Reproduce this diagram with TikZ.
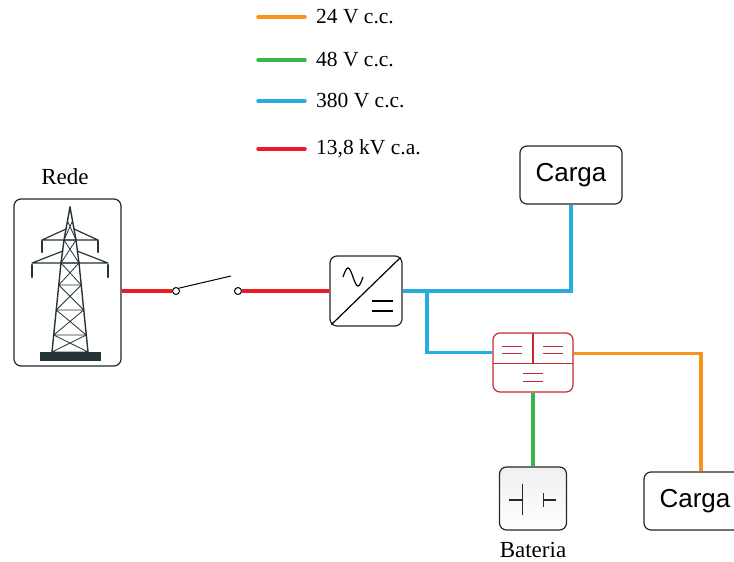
\documentclass[tikz,border=0pt]{standalone}
\usepackage{fontspec}
\setmainfont{Liberation Serif}
\newfontfamily\cargafont{Liberation Sans}
\usetikzlibrary{calc}

\definecolor{cc24}{RGB}{247,148,29}
\definecolor{cc48}{RGB}{57,181,74}
\definecolor{cc380}{RGB}{41,171,226}
\definecolor{ca138}{RGB}{237,28,36}
\definecolor{convred}{RGB}{196,42,48}
\definecolor{towercol}{RGB}{38,52,56}

\tikzset{
  box/.style={draw=black!85, line width=1.2pt, rounded corners=7pt, fill=white, inner sep=0pt},
  carga/.style={box, minimum width=102pt, minimum height=58pt,
    font=\cargafont\fontsize{26}{28}\selectfont},
  wire/.style={line width=3.5pt},
  terminal/.style={circle, draw, fill=white, line width=1pt, inner sep=0pt, minimum size=7pt},
  legtxt/.style={anchor=west, inner sep=0pt, font=\fontsize{21.5}{25}\selectfont},
  lbl/.style={inner sep=0pt, font=\fontsize{23}{27}\selectfont},
  sym/.style={line width=1.2pt},
}

\begin{document}
\begin{tikzpicture}[x=1pt,y=-1pt]
  \useasboundingbox (0,0) rectangle (734,562);
  \clip (0,0) rectangle (734,562);

  % legenda
  \foreach \i/\y/\c/\t in {1/17/cc24/24 V c.c., 2/60/cc48/48 V c.c.,
      3/101/cc380/380 V c.c., 4/149/ca138/{13,8 kV c.a.}} {
    \node[legtxt] (leg\i) at (316,\y) {\t};
    \draw[wire,\c,line cap=round] ([xshift=-58pt]leg\i.west) -- ([xshift=-11pt]leg\i.west);
  }

  % blocos
  \node[box, minimum width=107pt, minimum height=167pt] (rede) at (67.5,282.5) {};
  \node[lbl] (redelbl) at (65,177) {Rede};
  \node[box, minimum width=72pt, minimum height=70pt] (inv) at (366,291) {};
  \node[box, draw=convred, minimum width=80pt, minimum height=59pt] (conv) at (533,362.5) {};
  \node[box, top color=black!6, bottom color=white, minimum width=67pt, minimum height=63pt] (bat) at (533,498.5) {};
  \node[lbl] (batlbl) at (533,550) {Bateria};
  \node[carga] (cargaa) at (571,175) {Carga};
  \node[carga] (cargab) at (695,501) {Carga};

  % torre de transmissao
  \begin{scope}[towercol, line cap=round]
    \draw[line width=1.4pt] (70,207) -- (64,240) -- (61,263) -- (52,352);
    \draw[line width=1.4pt] (70,207) -- (76,240) -- (79,263) -- (88,352);
    \draw[line width=0.8pt] (64,240) -- (79,263) (76,240) -- (61,263)
      (68,222) -- (76,240) (72,222) -- (64,240) (64,240) -- (76,240) (61,263) -- (79,263);
    \foreach \ya/\yb in {263/285,285/310,310/335,335/352} {
      \draw[line width=0.8pt] ({61-9*(\ya-263)/89},\ya) -- ({79+9*(\yb-263)/89},\yb)
        ({79+9*(\ya-263)/89},\ya) -- ({61-9*(\yb-263)/89},\yb)
        ({61-9*(\yb-263)/89},\yb) -- ({79+9*(\yb-263)/89},\yb);
    }
    % bracos e isoladores
    \draw[line width=1.2pt] (42,240) -- (98,240) (42,240) -- (66,229) (98,240) -- (74,229);
    \draw[line width=1.2pt] (32,263) -- (108,263) (32,263) -- (63,251) (108,263) -- (77,251);
    \draw[line width=2.6pt] (42,241) -- (42,252) (98,241) -- (98,252)
      (32,265) -- (32,277) (108,265) -- (108,277);
    \fill (40,352) rectangle (101,361);
  \end{scope}

  % chave
  \node[terminal] (swa) at (176,291) {};
  \node[terminal] (swb) at (238,291) {};
  \coordinate (swtip) at (231,276);
  \draw[line width=1pt] (swa.north east) -- (swtip);

  % simbolos internos
  \begin{scope}[shift={(inv.center)}, sym]
    \draw ([shift={(2,-2)}]inv.south west) -- ([shift={(-2,2)}]inv.north east);
    \draw (-23,-14) sin (-18,-23) cos (-13,-14) sin (-8,-5) cos (-3,-14);
    \draw (6,10) -- (27,10) (6,20) -- (27,20);
  \end{scope}
  \begin{scope}[shift={(conv.center)}, sym, convred]
    \draw (-40,1) -- (40,1) (0,-29.5) -- (0,1);
    \draw (-31,-16) -- (-11,-16) (-31,-9) -- (-11,-9);
    \draw (10,-16) -- (30,-16) (10,-9) -- (30,-9);
    \draw (-10,11) -- (10,11) (-10,19) -- (10,19);
  \end{scope}
  \begin{scope}[shift={(bat.center)}, sym, black!85]
    \draw (-10.5,-15) -- (-10.5,16.5) (-24.5,1.5) -- (-10.5,1.5);
    \draw (10.5,-5.5) -- (10.5,8.5) (10.5,1.5) -- (22.5,1.5);
  \end{scope}

  % ligacoes
  \draw[wire, ca138] (rede.east |- swa) -- (swa.west);
  \draw[wire, ca138] (swb.east) -- (inv.west |- swb);
  \coordinate (tee) at (427,291);
  \draw[wire, cc380] (inv.east) -| (cargaa.south);
  \draw[wire, cc380] (tee) |- ([yshift=10pt]conv.west);
  \draw[wire, cc24] ([yshift=9pt]conv.east) -| ([xshift=6pt]cargab.north);
  \draw[wire, cc48] (conv.south) -- (bat.north);
\end{tikzpicture}
\end{document}
